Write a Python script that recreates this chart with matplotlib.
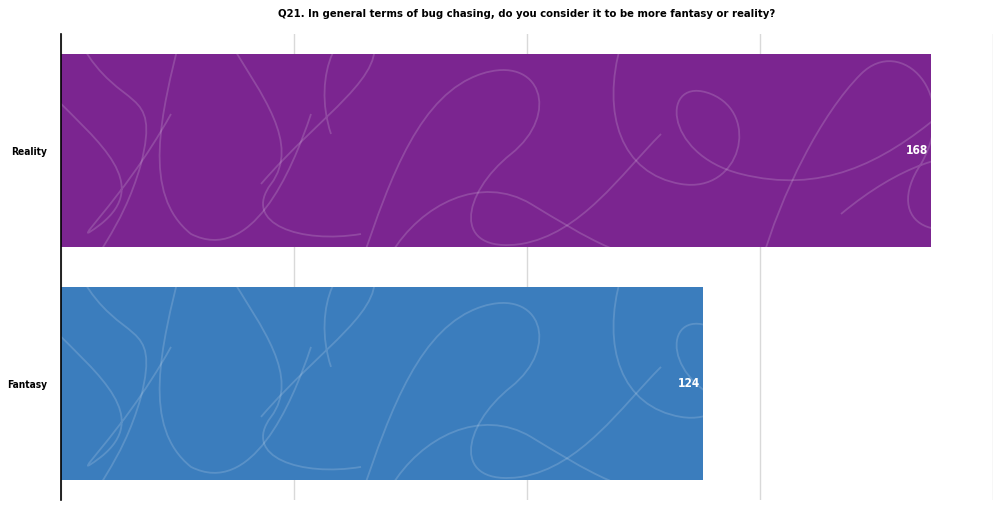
import matplotlib
matplotlib.use("Agg")
import matplotlib.pyplot as plt
from matplotlib.path import Path
from matplotlib.patches import PathPatch
import matplotlib.font_manager as fm

categories = ["Fantasy", "Reality"]
values = [124, 168]
colors = ["#3b7dbd", "#7b2590"]
title = "Q21. In general terms of bug chasing, do you consider it to be more fantasy or reality?"
grid_ticks = [0, 45, 90, 135, 180]

# look for a narrow / condensed bold face
cond = None
for f in fm.fontManager.ttflist:
    nm = f.name + " " + f.fname
    is_cond = ("Narrow" in nm or "Condensed" in nm or f.stretch in ("condensed", "semi-condensed"))
    is_bold = (f.weight in ("bold", 700, "heavy") or "Bold" in f.fname) and "Oblique" not in f.fname and "Italic" not in f.fname
    if is_cond and is_bold:
        cond = f.fname
        break

if cond:
    fp = lambda s: fm.FontProperties(fname=cond, size=s)
    scale = 1.0
else:
    fp = lambda s: fm.FontProperties(family="DejaVu Sans", weight="bold", size=s)
    scale = 0.85

W, H, DPI = 10.0, 5.08, 100
fig = plt.figure(figsize=(W, H), dpi=DPI)
ax_l, ax_b, ax_w, ax_h = 0.061, 0.0157, 0.932, 0.917
ax = fig.add_axes([ax_l, ax_b, ax_w, ax_h])

xmax = 180
ax.set_xlim(0, xmax)
ax.set_ylim(-0.5, 1.5)
bar_h = 0.83
bars = ax.barh(range(len(categories)), values, height=bar_h, color=colors, zorder=2)

# decorative squiggle texture (pixel offsets from bar top-left)
squiggles = [
    [(-10, 40), (40, 90), (90, 130), (40, 170), (0, 200), (60, 150), (110, 60)],
    [(20, -10), (60, 60), (100, 30), (80, 110), (60, 180), (30, 200), (20, 240)],
    [(120, -20), (100, 60), (80, 140), (130, 180), (190, 210), (230, 120), (250, 60)],
    [(200, 130), (260, 60), (330, 20), (310, -20), (280, -40), (250, 20), (270, 80)],
    [(300, 210), (330, 120), (360, 40), (420, 20), (480, 0), (500, 60), (450, 100)],
    [(450, 100), (400, 140), (390, 200), (460, 190), (520, 180), (560, 120), (600, 80)],
    [(560, -10), (540, 60), (560, 120), (620, 130), (680, 140), (700, 60), (650, 40)],
    [(650, 40), (600, 20), (600, 100), (680, 120), (760, 140), (820, 110), (880, 60)],
    [(700, 210), (720, 140), (760, 60), (800, 20), (840, -20), (900, 40), (860, 110)],
    [(860, 110), (820, 170), (880, 200), (940, 150), (980, 110), (900, 60), (780, 160)],
    [(330, 200), (360, 150), (420, 120), (470, 150), (520, 180), (580, 220), (620, 200)],
    [(170, -10), (200, 40), (240, 90), (210, 130), (180, 170), (240, 190), (300, 180)],
]

px_x = ax_w * W * DPI / xmax
px_y = ax_h * H * DPI / 2.0
for bar in bars:
    x0 = bar.get_x()
    ytop = bar.get_y() + bar.get_height()
    for pts in squiggles:
        verts = [(x0 + px / px_x, ytop - py / px_y) for px, py in pts]
        codes = [Path.MOVETO] + [Path.CURVE4] * (len(verts) - 1)
        pp = PathPatch(Path(verts, codes), fill=False, edgecolor="white",
                       alpha=0.16, lw=1.3, zorder=3)
        ax.add_patch(pp)
        pp.set_clip_path(bar)

for bar, v in zip(bars, values):
    ax.text(v - 0.5, bar.get_y() + bar.get_height() / 2, str(v), ha="right",
            va="center", color="white", fontproperties=fp(8.6 * scale), zorder=4)

ax.set_xticks(grid_ticks)
ax.set_xticklabels([])
ax.tick_params(axis="x", length=0)
ax.grid(axis="x", color="#d9d9d9", lw=1, zorder=0)
ax.set_yticks(range(len(categories)))
ax.set_yticklabels(categories)
for t in ax.get_yticklabels():
    t.set_fontproperties(fp(7.3 * scale))
ax.tick_params(axis="y", length=0, pad=10)
for s in ["top", "right", "bottom"]:
    ax.spines[s].set_visible(False)
ax.spines["left"].set_color("black")
ax.spines["left"].set_linewidth(1.2)
ax.spines["left"].set_zorder(5)

fig.text(ax_l + ax_w / 2, 1 - 14 / 508, title, ha="center", va="center",
         fontproperties=fp(8.1 * scale))

fig.savefig("out.png", dpi=DPI)
